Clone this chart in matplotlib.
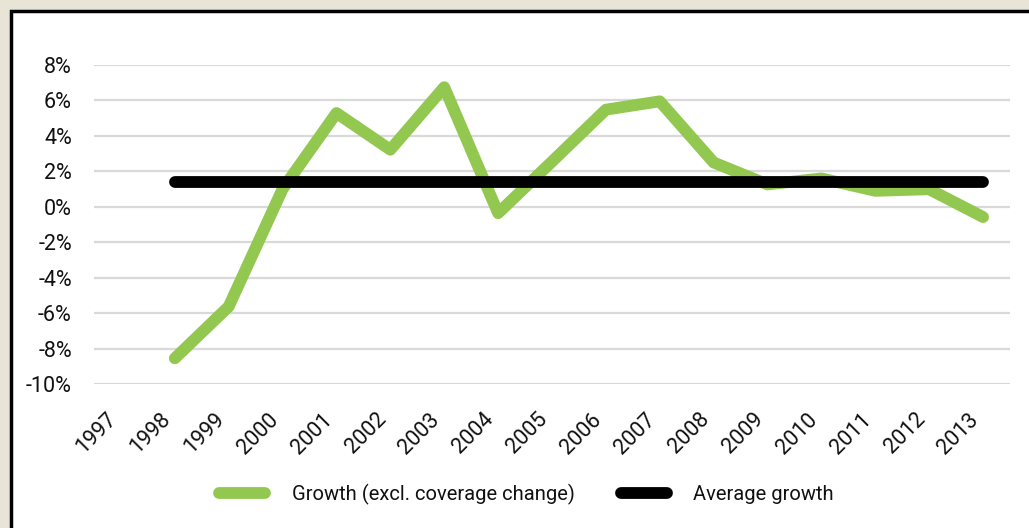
import matplotlib.pyplot as plt
from matplotlib.patches import Rectangle
from matplotlib.lines import Line2D

plt.rcParams['font.family'] = ['Roboto', 'DejaVu Sans']

years = ['1997', '1998', '1999', '2000', '2001', '2002', '2003', '2004', '2005',
         '2006', '2007', '2008', '2009', '2010', '2011', '2012', '2013']
# growth in % (excl. coverage change), no value for 1997
growth = [None, -8.55, -5.63, 1.0, 5.29, 3.22, 6.75, -0.36, 2.55,
          5.48, 5.95, 2.5, 1.26, 1.6, 0.9, 0.99, -0.58]
avg_growth = 1.4

green = '#92C850'
W, H = 1029, 528

fig = plt.figure(figsize=(W / 100, H / 100), dpi=100, facecolor='#E8E4D6')

# white panel with black frame, running off the right and bottom edges
panel = Rectangle((10.5 / W, -0.1), 1.2, (H - 10.5) / H + 0.1,
                  transform=fig.transFigure, facecolor='white',
                  edgecolor='black', lw=2.5, zorder=0)
fig.add_artist(panel)

ax = fig.add_axes([94 / W, (H - 384) / H, 916 / W, 319 / H])
ax.set_facecolor('none')

xs = [i for i, v in enumerate(growth) if v is not None]
ys = [v for v in growth if v is not None]
ax.plot(xs, ys, color=green, lw=8.5, solid_capstyle='round',
        solid_joinstyle='round', clip_on=False, zorder=3)
ax.plot([xs[0], xs[-1]], [avg_growth, avg_growth], color='black', lw=8.5,
        solid_capstyle='round', clip_on=False, zorder=4)

ax.set_xlim(-0.5, len(years) - 0.5)
ax.set_ylim(-10, 8)
ax.set_yticks(range(-10, 9, 2))
ax.set_yticklabels([f'{t}%' for t in range(-10, 9, 2)])
ax.set_xticks(range(len(years)))
ax.set_xticklabels(years, rotation=45, ha='right', rotation_mode='default')
ax.tick_params(axis='both', length=0, labelsize=15.5, labelcolor='#111111')
ax.tick_params(axis='y', pad=16)
ax.tick_params(axis='x', pad=18)
ax.yaxis.grid(True, color='#D9D9D9', lw=1.6)
ax.set_axisbelow(True)
for s in ax.spines.values():
    s.set_visible(False)

handles = [Line2D([], [], color=green, lw=8.5, solid_capstyle='round'),
           Line2D([], [], color='black', lw=8.5, solid_capstyle='round')]
fig.legend(handles, ['Growth (excl. coverage change)', 'Average growth'],
           loc='center', bbox_to_anchor=(526.5 / W, 1 - 494 / H), ncol=2,
           frameon=False, fontsize=14.5, labelcolor='#111111',
           handlelength=2.3, handletextpad=1.3, columnspacing=2.3,
           borderpad=0)

fig.savefig('out.png', dpi=100, facecolor=fig.get_facecolor())
